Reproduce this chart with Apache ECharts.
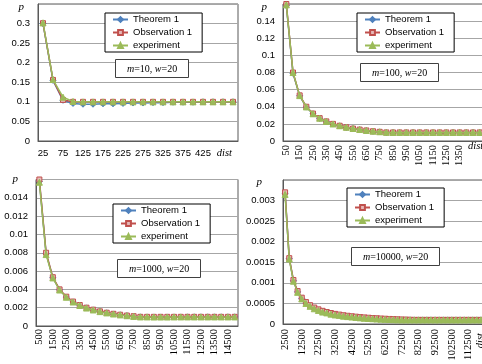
<!DOCTYPE html>
<html>
<head>
<meta charset="utf-8">
<script src="https://cdn.jsdelivr.net/npm/echarts@6/dist/echarts.min.js"></script>
<style>
html, body { margin: 0; padding: 0; background: #fff; }
#main { width: 482px; height: 364px; }
</style>
</head>
<body>
<div id="main"></div>
<script>
// m=10
var dist1 = ['25','50','75','100','125','150','175','200','225','250','275','300','325','350','375','400','425','450','475','500'];
var ticks1 = ['25','75','125','175','225','275','325','375','425'];
var theorem1 = [0.300, 0.155, 0.104, 0.096, 0.094, 0.094, 0.095, 0.095, 0.096, 0.097, 0.097, 0.098, 0.098, 0.099, 0.099, 0.099, 0.100, 0.100, 0.100, 0.100];
var observ1 = [0.301, 0.156, 0.105, 0.100, 0.100, 0.100, 0.100, 0.100, 0.100, 0.100, 0.100, 0.100, 0.100, 0.100, 0.100, 0.100, 0.100, 0.100, 0.100, 0.100];
var exper1 = [0.302, 0.157, 0.112, 0.101, 0.100, 0.100, 0.100, 0.100, 0.100, 0.100, 0.100, 0.100, 0.100, 0.100, 0.100, 0.100, 0.100, 0.100, 0.100, 0.100];

// m=100
var dist2 = ['50','100','150','200','250','300','350','400','450','500','550','600','650','700','750','800','850','900','950','1000','1050','1100','1150','1200','1250','1300','1350','1400','1450','1500'];
var ticks2 = ['50','150','250','350','450','550','650','750','850','950','1050','1150','1250','1350'];
var theorem2 = [0.158, 0.079, 0.0528, 0.0396, 0.0317, 0.0264, 0.0226, 0.0198, 0.0176, 0.0158, 0.0144, 0.0132, 0.0122, 0.0113, 0.0106, 0.0099, 0.0098, 0.0098, 0.0098, 0.0098, 0.0097, 0.0097, 0.0096, 0.0096, 0.0097, 0.0098, 0.0099, 0.0099, 0.0100, 0.0100];
var observ2 = [0.160, 0.080, 0.0533, 0.0400, 0.0320, 0.0267, 0.0229, 0.0200, 0.0178, 0.0160, 0.0145, 0.0133, 0.0123, 0.0114, 0.0107, 0.0100, 0.0100, 0.0100, 0.0100, 0.0100, 0.0100, 0.0100, 0.0100, 0.0100, 0.0100, 0.0100, 0.0100, 0.0100, 0.0100, 0.0100];
var exper2 = [0.159, 0.080, 0.0530, 0.0398, 0.0318, 0.0266, 0.0228, 0.0199, 0.0178, 0.0160, 0.0146, 0.0134, 0.0123, 0.0115, 0.0108, 0.0101, 0.0100, 0.0100, 0.0100, 0.0100, 0.0100, 0.0100, 0.0100, 0.0100, 0.0100, 0.0100, 0.0100, 0.0100, 0.0100, 0.0100];

// m=1000
var dist3 = ['500','1000','1500','2000','2500','3000','3500','4000','4500','5000','5500','6000','6500','7000','7500','8000','8500','9000','9500','10000','10500','11000','11500','12000','12500','13000','13500','14000','14500','15000'];
var ticks3 = ['500','1500','2500','3500','4500','5500','6500','7500','8500','9500','10500','11500','12500','13500','14500'];
var theorem3 = [0.0158, 0.0079, 0.00527, 0.00395, 0.00316, 0.00263, 0.00226, 0.00198, 0.00176, 0.00158, 0.00144, 0.00132, 0.00122, 0.00113, 0.00106, 0.00100, 0.00099, 0.00099, 0.00099, 0.00099, 0.00099, 0.00099, 0.00100, 0.00100, 0.00100, 0.00100, 0.00100, 0.00100, 0.00100, 0.00100];
var observ3 = [0.0160, 0.0080, 0.00533, 0.00400, 0.00320, 0.00267, 0.00229, 0.00200, 0.00178, 0.00160, 0.00145, 0.00133, 0.00123, 0.00114, 0.00107, 0.00100, 0.00100, 0.00100, 0.00100, 0.00100, 0.00100, 0.00100, 0.00100, 0.00100, 0.00100, 0.00100, 0.00100, 0.00100, 0.00100, 0.00100];
var exper3 = [0.0157, 0.0078, 0.00525, 0.00393, 0.00314, 0.00262, 0.00224, 0.00196, 0.00175, 0.00157, 0.00143, 0.00131, 0.00121, 0.00112, 0.00105, 0.00099, 0.00099, 0.00098, 0.00098, 0.00098, 0.00099, 0.00099, 0.00099, 0.00099, 0.00099, 0.00099, 0.00099, 0.00099, 0.00099, 0.00099];

// m=10000
var dist4 = ['2500','5000','7500','10000','12500','15000','17500','20000','22500','25000','27500','30000','32500','35000','37500','40000','42500','45000','47500','50000','52500','55000','57500','60000','62500','65000','67500','70000','72500','75000','77500','80000','82500','85000','87500','90000','92500','95000','97500','100000','102500','105000','107500','110000','112500','115000','117500','120000'];
var ticks4 = ['2500','12500','22500','32500','42500','52500','62500','72500','82500','92500','102500','112500'];
var theorem4 = [0.00318, 0.00159, 0.00105, 0.00078, 0.00062, 0.00051, 0.00044, 0.00038, 0.00034, 0.00030, 0.00027, 0.00025, 0.00023, 0.00021, 0.000195, 0.00018, 0.00017, 0.00016, 0.00015, 0.000143, 0.000136, 0.00013, 0.000124, 0.000119, 0.000114, 0.00011, 0.000106, 0.000103, 0.0001, 0.0001, 0.0001, 0.0001, 0.0001, 0.0001, 0.0001, 0.0001, 0.0001, 0.0001, 0.0001, 0.0001, 0.0001, 0.0001, 0.0001, 0.0001, 0.0001, 0.0001, 0.0001, 0.0001];
var observ4 = [0.0032, 0.0016, 0.00107, 0.0008, 0.00064, 0.000533, 0.000457, 0.0004, 0.000356, 0.00032, 0.000291, 0.000267, 0.000246, 0.000229, 0.000213, 0.0002, 0.000188, 0.000178, 0.000168, 0.00016, 0.000152, 0.000145, 0.000139, 0.000133, 0.000128, 0.000123, 0.000119, 0.000114, 0.00011, 0.000107, 0.000103, 0.0001, 0.0001, 0.0001, 0.0001, 0.0001, 0.0001, 0.0001, 0.0001, 0.0001, 0.0001, 0.0001, 0.0001, 0.0001, 0.0001, 0.0001, 0.0001, 0.0001];
var exper4 = [0.00315, 0.00158, 0.00104, 0.00077, 0.00061, 0.0005, 0.00043, 0.00037, 0.00033, 0.00029, 0.00027, 0.00024, 0.00022, 0.00021, 0.00019, 0.00018, 0.00017, 0.00016, 0.00015, 0.00014, 0.000134, 0.000128, 0.000122, 0.000117, 0.000113, 0.000109, 0.000105, 0.000102, 0.0001, 0.0001, 0.0001, 0.0001, 0.0001, 0.0001, 0.0001, 0.0001, 0.0001, 0.0001, 0.0001, 0.0001, 0.0001, 0.0001, 0.0001, 0.0001, 0.0001, 0.0001, 0.0001, 0.0001];

var names = ['Theorem 1', 'Observation 1', 'experiment'];
var notes = ['{i|m}=10, {i|w}=20', '{i|m}=100, {i|w}=20', '{i|m}=1000, {i|w}=20', '{i|m}=10000, {i|w}=20'];

var SANS = 'Liberation Sans', SERIF = 'Liberation Serif';
var dark = '#595959';

var dom = document.getElementById('main');
var myChart = echarts.init(dom);

var grids = [
    {left: 38, top: 4, width: 200, height: 137},
    {left: 283, top: 4, width: 200, height: 137},
    {left: 36, top: 179.5, width: 202, height: 146.5},
    {left: 283, top: 180, width: 200, height: 144}
];
grids.forEach(function (g) {
    g.show = true;
    g.borderColor = dark;
    g.borderWidth = 1;
    g.outerBoundsMode = 'none';
});

function xAx(idx, cats, ticks, rotated, margin) {
    return {
        type: 'category', gridIndex: idx, data: cats, boundaryGap: true,
        axisLine: {lineStyle: {color: dark}},
        axisTick: {inside: true, length: 3, interval: 0, lineStyle: {color: dark}},
        axisLabel: {
            interval: function (i, v) { return ticks.indexOf(v) >= 0; },
            rotate: rotated ? 90 : 0,
            margin: margin,
            color: '#000',
            fontFamily: rotated ? SERIF : SANS,
            fontSize: rotated ? 10.5 : 9.5
        },
        splitLine: {show: false}
    };
}
function yAx(idx, max, step, gap, pad) {
    return {
        type: 'value', gridIndex: idx, min: 0, max: max, interval: step,
        name: 'p', nameLocation: 'end', nameGap: gap,
        nameTextStyle: {fontFamily: SERIF, fontStyle: 'italic', fontSize: 11, color: '#000',
            align: 'right', verticalAlign: 'middle', padding: [0, pad, 0, 0]},
        axisLine: {show: true, lineStyle: {color: dark}},
        axisTick: {show: false},
        axisLabel: {showMaxLabel: false, margin: 8, color: '#000', fontFamily: SANS, fontSize: 9.5},
        splitLine: {show: true, lineStyle: {color: '#a6a6a6'}}
    };
}

var xAxes = [
    xAx(0, dist1, ticks1, false, 7),
    xAx(1, dist2, ticks2, true, 4),
    xAx(2, dist3, ticks3, true, 3),
    xAx(3, dist4, ticks4, true, 5)
];
var distStyle = {fontFamily: SERIF, fontStyle: 'italic', fontSize: 10.5, color: '#000'};
xAxes[0].name = 'dist'; xAxes[0].nameLocation = 'end'; xAxes[0].nameGap = -6;
xAxes[0].nameTextStyle = Object.assign({align: 'right', verticalAlign: 'top', padding: [7, 0, 0, 0]}, distStyle);
xAxes[1].name = 'dist'; xAxes[1].nameLocation = 'end'; xAxes[1].nameGap = -15;
xAxes[1].nameTextStyle = Object.assign({align: 'left', verticalAlign: 'top', padding: [0, 0, 0, 0]}, distStyle);
xAxes[3].name = 'dist'; xAxes[3].nameLocation = 'end'; xAxes[3].nameGap = -3; xAxes[3].nameRotate = 90;
xAxes[3].nameTextStyle = Object.assign({align: 'right', verticalAlign: 'middle', padding: [0, 9, 0, 0]}, distStyle);

var yAxes = [
    yAx(0, 0.35, 0.05, -3, 14),
    yAx(1, 0.16, 0.02, -3, 16),
    yAx(2, 0.016, 0.002, 0, 18),
    yAx(3, 0.0035, 0.0005, -2, 21)
];

var looks = [
    {color: '#4F81BD', symbol: 'diamond', size: 6, fill: '#4F81BD'},
    {color: '#C0504D', symbol: 'rect', size: 5, fill: '#E6B9B8'},
    {color: '#9BBB59', symbol: 'triangle', size: 6, fill: '#9BBB59'}
];
var sets = [
    [theorem1, observ1, exper1],
    [theorem2, observ2, exper2],
    [theorem3, observ3, exper3],
    [theorem4, observ4, exper4]
];
var series = [];
sets.forEach(function (set, g) {
    set.forEach(function (vals, k) {
        var lk = looks[k];
        series.push({
            name: names[k], type: 'line', xAxisIndex: g, yAxisIndex: g,
            data: vals, showAllSymbol: true, animation: false,
            symbol: lk.symbol, symbolSize: lk.size,
            lineStyle: {color: lk.color, width: 1.5},
            itemStyle: {color: lk.fill, borderColor: lk.color, borderWidth: 1},
            z: 2 + k
        });
    });
});

var legendPos = [[105, 13], [357, 13], [113, 204], [347, 188]];
var legends = legendPos.map(function (p) {
    return {
        data: names, orient: 'vertical', left: p[0], top: p[1],
        itemWidth: 15, itemHeight: 6, itemGap: 2,
        padding: [1, 10, 1, 7],
        backgroundColor: '#fff', borderColor: '#000', borderWidth: 1,
        selectedMode: false,
        textStyle: {fontFamily: SANS, fontSize: 9.5, lineHeight: 11, color: '#000'}
    };
});

var notePos = [[115, 59], [360, 63], [117, 259], [351, 247]];
var titles = notePos.map(function (p, i) {
    return {
        text: notes[i], left: p[0], top: p[1],
        padding: [5, 12, 4, 12],
        backgroundColor: '#fff', borderColor: '#404040', borderWidth: 1,
        textStyle: {fontFamily: SERIF, fontSize: 10, fontWeight: 'normal', color: '#000',
            rich: {i: {fontFamily: SERIF, fontStyle: 'italic', fontSize: 10, color: '#000'}}}
    };
});

option = {
    backgroundColor: '#fff',
    animation: false,
    title: titles,
    legend: legends,
    grid: grids,
    xAxis: xAxes,
    yAxis: yAxes,
    series: series
};
if (option && typeof option === "object") {
    myChart.setOption(option, true);
}
window.onresize = myChart.resize;
</script>
</body>
</html>
